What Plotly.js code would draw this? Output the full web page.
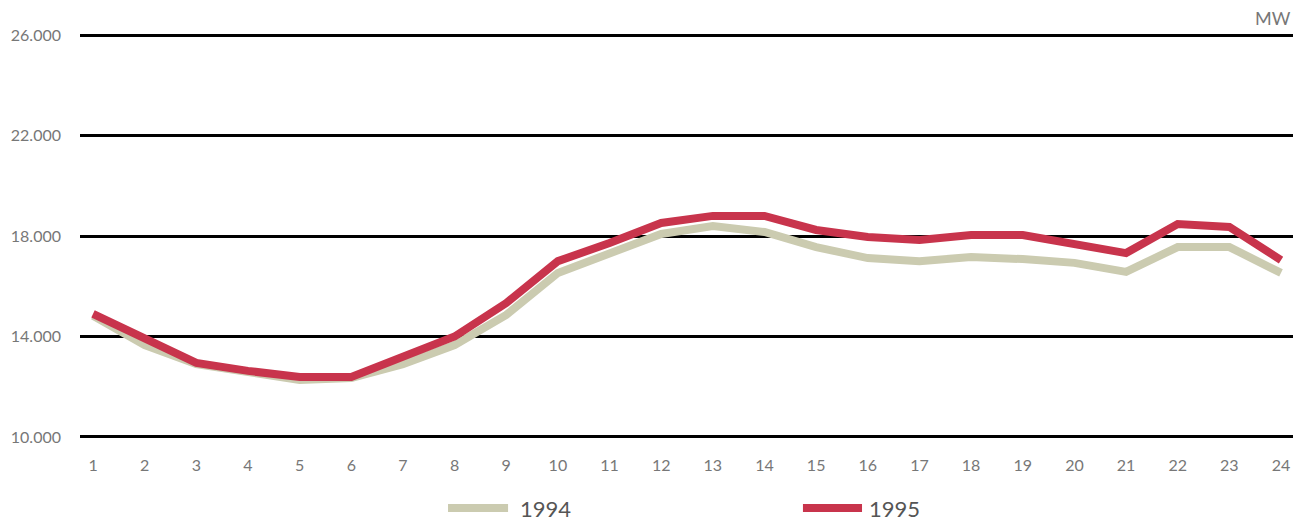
<!DOCTYPE html>
<html>
<head>
<meta charset="utf-8">
<script src="https://cdn.plot.ly/plotly-3.0.1.min.js"></script>
<style>html,body{margin:0;padding:0;background:#fff;}#chart{width:1303px;height:522px;}</style>
</head>
<body>
<div id="chart"></div>
<script>
const hours = [1,2,3,4,5,6,7,8,9,10,11,12,13,14,15,16,17,18,19,20,21,22,23,24];
const load1994 = [14820,13660,12900,12550,12270,12350,12900,13660,14860,16530,17320,18080,18400,18160,17560,17120,17000,17160,17080,16930,16570,17560,17560,16530];
const load1995 = [14900,13900,12950,12630,12390,12390,13180,14000,15330,17000,17720,18520,18800,18800,18240,17960,17840,18040,18040,17720,17320,18480,18360,17040];
const yTickVals = [10000,14000,18000,22000,26000];
const yTickText = ['10.000','14.000','18.000','22.000','26.000'];
const seriesNames = ['1994','1995'];
const colors = ['#cbcbb0','#c8344c'];

const font = {family:'Lato, "DejaVu Sans", sans-serif', color:'#777', size:16};

const traces = [
  {x:hours, y:load1994, name:seriesNames[0], mode:'lines', line:{color:colors[0], width:8}, showlegend:false},
  {x:hours, y:load1995, name:seriesNames[1], mode:'lines', line:{color:colors[1], width:8}, showlegend:false}
];

const legY = -0.17;
const layout = {
  width:1303, height:522,
  margin:{l:80, r:10, t:33, b:83},
  paper_bgcolor:'#fff', plot_bgcolor:'#fff',
  font:font,
  xaxis:{range:[0.748,24.232], tickvals:hours, ticktext:hours.map(String), showgrid:false, zeroline:false, showline:false, ticks:'', ticklabelstandoff:15, tickfont:{size:16, color:'#777'}},
  yaxis:{range:[9920,26080], tickvals:yTickVals, ticktext:yTickText, showgrid:true, gridcolor:'#000', gridwidth:3, zeroline:false, showline:false, ticks:'', ticklabelstandoff:18, tickfont:{size:16, color:'#777'}},
  shapes:[
    {type:'line', xref:'paper', yref:'paper', x0:0.3034, x1:0.3529, y0:legY, y1:legY, line:{color:colors[0], width:8}},
    {type:'line', xref:'paper', yref:'paper', x0:0.596, x1:0.6447, y0:legY, y1:legY, line:{color:colors[1], width:8}}
  ],
  annotations:[
    {text:seriesNames[0], xref:'paper', yref:'paper', x:0.3611, y:legY, xanchor:'left', yanchor:'middle', showarrow:false, font:{size:22, color:'#555'}},
    {text:seriesNames[1], xref:'paper', yref:'paper', x:0.6488, y:legY, xanchor:'left', yanchor:'middle', showarrow:false, font:{size:22, color:'#555'}},
    {text:'MW', xref:'paper', yref:'paper', x:1, y:1.037, xanchor:'right', yanchor:'middle', showarrow:false, font:{size:18, color:'#777'}}
  ]
};

Plotly.newPlot('chart', traces, layout, {displayModeBar:false, staticPlot:true});
</script>
</body>
</html>
